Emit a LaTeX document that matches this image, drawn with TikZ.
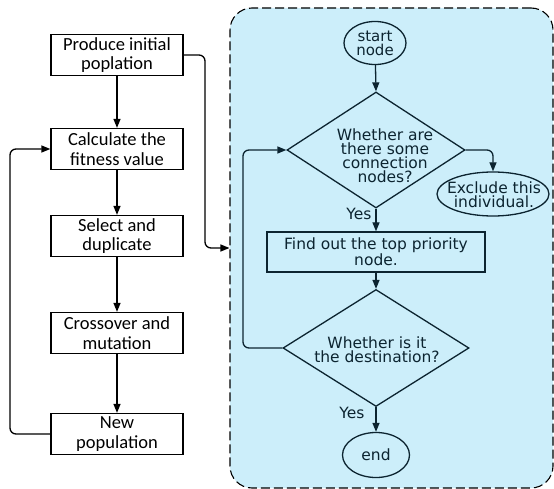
\documentclass[tikz,border=0pt]{standalone}
\usepackage{fontspec}
\setmainfont{Carlito}
\newfontfamily\rfont{DejaVu Sans}
\usetikzlibrary{shapes.geometric,arrows.meta}
\definecolor{regfill}{RGB}{204,238,250}
\definecolor{rline}{RGB}{12,36,48}
\begin{document}
\begin{tikzpicture}[x=1pt,y=-1pt,
  arr/.style={-{Triangle[length=9pt,width=7pt]}, line width=1.3pt, rounded corners=6pt},
  rarr/.style={arr, draw=rline},
  lbox/.style={draw, line width=1.3pt, minimum width=132pt, minimum height=41pt, align=center, inner sep=0pt, font=\fontsize{18.5}{19.5}\selectfont},
  rtxt/.style={align=center, inner sep=0pt, text=rline, font=\rfont\fontsize{15.5}{14}\selectfont},
  rbox/.style={draw=rline, line width=1.3pt, rtxt},
  rell/.style={ellipse, draw=rline, line width=1.3pt, inner sep=0pt, rtxt},
  rdia/.style={diamond, draw=rline, line width=1.3pt, inner sep=0pt},
  region/.style={draw, dash pattern=on 9pt off 4pt, line width=1.1pt, fill=regfill, rounded corners=22pt}
]
\useasboundingbox (0,0) rectangle (554,489);
\node[region, minimum width=323pt, minimum height=480pt] (reg) at (391.5,248) {};

% left flow
\node[lbox] (p1) at (117,55) {Produce initial\\poplation};
\node[lbox] (p2) at (117,149) {Calculate the\\fitness value};
\node[lbox] (p3) at (117,236) {Select and\\duplicate};
\node[lbox] (p4) at (117,333) {Crossover and\\mutation};
\node[lbox] (p5) at (117,434) {New\\population};
\coordinate (la) at (10,300);
\coordinate (ra) at (205,150);
\draw[arr] (p1) -- (p2);
\draw[arr] (p2) -- (p3);
\draw[arr] (p3) -- (p4);
\draw[arr] (p4) -- (p5);
\draw[arr] (p5.west) -| (la) |- (p2.west);
\draw[arr] (p1.east) -| (ra) |- (reg.west);

% right flow
\node[rell, minimum width=62pt, minimum height=43pt, font=\rfont\fontsize{15}{14}\selectfont] (s) at (375,43) {start\\node};
\node[rdia, minimum width=178pt, minimum height=116pt] (d1) at (376,150) {};
\node[rtxt] (d1t) at (385,156) {Whether are\\there some\\connection\\nodes?};
\node[rell, minimum width=112pt, minimum height=44pt] (ex) at (493,194) {};
\node[rtxt] (ext) at (494,195) {Exclude this\\individual.};
\node[rbox, minimum width=218pt, minimum height=40pt] (f) at (376,252) {Find out the top priority\\node.};
\node[rdia, minimum width=186pt, minimum height=117pt] (d2) at (376,348) {};
\node[rtxt] (d2t) at (377,350) {Whether is it\\the destination?};
\node[rell, minimum width=67pt, minimum height=45pt] (e) at (376,455) {end};
\coordinate (lb) at (243,250);
\draw[rarr] (s) -- (d1.north);
\draw[rarr] (d1.east) -| (ex.north);
\draw[rarr] (d1.south) -- node[rtxt, anchor=east, pos=0.25, xshift=-4pt] (y1) {Yes} (f.north);
\draw[rarr] (f) -- (d2.north);
\draw[rarr] (d2.west) -| (lb) |- (d1.west);
\draw[rarr] (d2.south) -- node[rtxt, anchor=east, pos=0.24, xshift=-11pt] (y2) {Yes} (e.north);
\end{tikzpicture}
\end{document}
